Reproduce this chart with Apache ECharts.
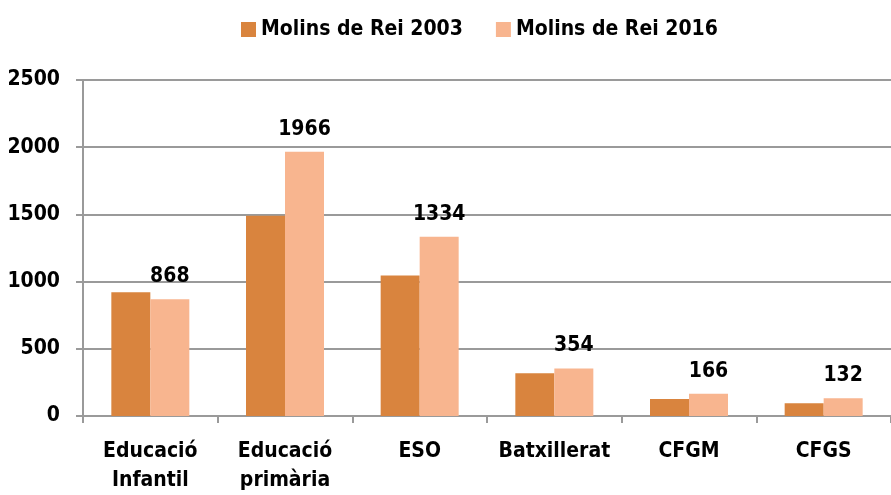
<!DOCTYPE html>
<html>
<head>
<meta charset="utf-8">
<script src="https://cdn.jsdelivr.net/npm/echarts@6/dist/echarts.min.js"></script>
<style>
  html, body { margin: 0; padding: 0; background: #fff; }
  #main { width: 891px; height: 495px; }
</style>
</head>
<body>
<div id="main"></div>
<script>
var categories = ['Educació\nInfantil', 'Educació\nprimària', 'ESO', 'Batxillerat', 'CFGM', 'CFGS'];
var molins2003 = [920, 1490, 1045, 318, 127, 95];
var molins2016 = [868, 1966, 1334, 354, 166, 132];
var yTicks = [0, 500, 1000, 1500, 2000, 2500];

var font = "'Liberation Sans Narrow', 'DejaVu Sans Condensed', sans-serif";

var myChart = echarts.init(document.getElementById('main'));
var option = {
    animation: false,
    textStyle: { fontFamily: font },
    legend: {
        top: 14,
        left: 236,
        icon: 'rect',
        itemWidth: 15,
        itemHeight: 15,
        itemGap: 33,
        textStyle: { fontFamily: font, fontSize: 21, fontWeight: 'bold', color: '#000' },
        data: ['Molins de Rei 2003', 'Molins de Rei 2016']
    },
    grid: { left: 83, top: 80, bottom: 75, width: 823 },
    xAxis: {
        type: 'category',
        data: categories,
        axisLine: { lineStyle: { color: '#9a9a9a', width: 2 } },
        axisTick: { show: true, length: 7, lineStyle: { color: '#9a9a9a', width: 2 } },
        axisLabel: {
            interval: 0,
            margin: 21,
            fontFamily: font, fontSize: 21, fontWeight: 'bold', color: '#000',
            lineHeight: 29
        }
    },
    yAxis: {
        type: 'value',
        min: yTicks[0],
        max: yTicks[yTicks.length - 1],
        interval: 500,
        axisLine: { show: true, lineStyle: { color: '#9a9a9a', width: 2 } },
        axisTick: { show: true, length: 7, lineStyle: { color: '#9a9a9a', width: 2 } },
        splitLine: { lineStyle: { color: '#9a9a9a', width: 2 } },
        axisLabel: {
            margin: 23,
            formatter: function (v) { return String(v); },
            fontFamily: font, fontSize: 21, fontWeight: 'bold', color: '#000'
        }
    },
    series: [
        {
            name: 'Molins de Rei 2003',
            type: 'bar',
            data: molins2003,
            barWidth: 39,
            barGap: '0%',
            itemStyle: { color: '#d9843e' }
        },
        {
            name: 'Molins de Rei 2016',
            type: 'bar',
            data: molins2016,
            barWidth: 39,
            barGap: '0%',
            itemStyle: { color: '#f8b58f' },
            label: {
                show: true,
                position: 'top',
                distance: 12,
                fontFamily: font, fontSize: 21, fontWeight: 'bold', color: '#000'
            }
        }
    ]
};
myChart.setOption(option);
</script>
</body>
</html>
